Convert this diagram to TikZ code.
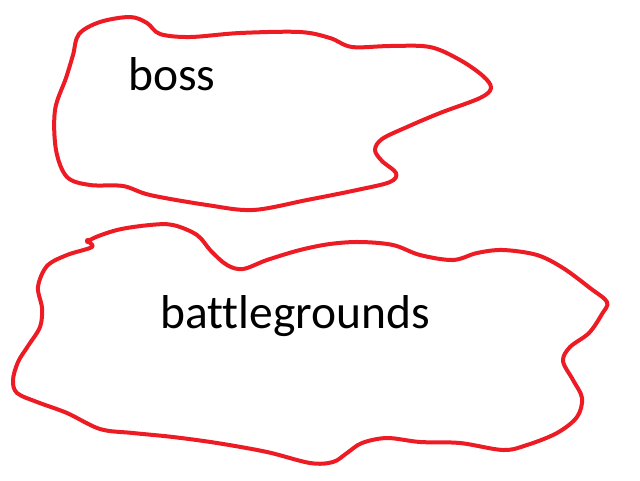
\documentclass[tikz,border=0pt]{standalone}
\usepackage{fontspec}
\setmainfont{Carlito}[Ligatures={NoCommon}]
\definecolor{paintred}{RGB}{237,28,36}
\begin{document}
\begin{tikzpicture}[x=1pt,y=-1pt,
  blob/.style={draw=paintred,line width=4pt,line join=round,line cap=round},
  label/.style={font=\fontsize{47.5}{56}\selectfont,text=black,inner sep=0pt,anchor=base}]
\useasboundingbox[fill=white] (0,0) rectangle (640,480);
\draw[blob] plot[smooth cycle,tension=0.55] coordinates {
  (79,34) (100,22) (130,17) (147,23) (160,34) (190,37) (240,33) (300,32) (330,38)
  (352,47) (390,46) (430,47) (460,60) (483,76) (491,88) (480,98) (440,113) (407,127)
  (382,139) (375,150) (382,161) (396,173) (390,182) (357,190) (307,200) (253,210)
  (207,205) (150,195) (123,186) (90,185) (67,177) (56,150) (55,110) (66,78) (73,55)};
\draw[blob] plot[smooth cycle,tension=0.55] coordinates {
  (90,240) (117,230) (150,225) (173,225) (197,235) (211,251) (227,265) (243,269)
  (267,260) (300,250) (330,244) (360,242) (393,245) (420,255) (453,260) (477,253)
  (503,250) (537,255) (563,268) (590,288) (607,302) (602,314) (589,333) (570,347)
  (563,361) (573,380) (582,398) (577,417) (557,433) (527,445) (503,450) (460,443)
  (420,442) (387,438) (362,443) (347,453) (333,462) (310,463) (267,452) (217,443)
  (173,437) (133,433) (100,429) (67,413) (37,402) (17,393) (13,380) (18,362) (28,346)
  (40,327) (42,308) (38,287) (47,266) (67,255) (92,247)};
\fill[paintred] (88,241) circle (3.2pt);
\node[label] (boss) at (172,90) {boss};
\node[label] (bg) at (295,328) {battlegrounds};
\end{tikzpicture}
\end{document}
